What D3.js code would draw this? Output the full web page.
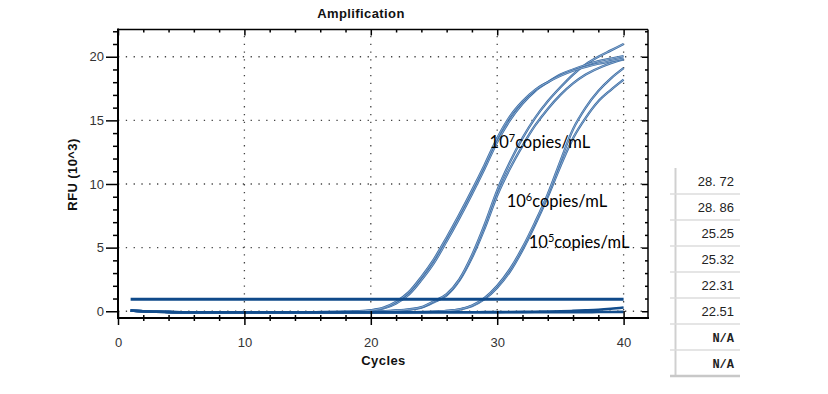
<!DOCTYPE html>
<html><head><meta charset="utf-8">
<script src="https://cdn.jsdelivr.net/npm/d3@7/dist/d3.min.js"></script>
<style>body{margin:0;background:#fff}svg{display:block}</style>
</head><body>
<script>
// ---- data ----
const cycles = [1,2,3,4,5,6,7,8,9,10,11,12,13,14,15,16,17,18,19,20,21,22,23,24,25,26,27,28,29,30,31,32,33,34,35,36,37,38,39,40];
const curve7a = [0.05,0.0,-0.04,-0.06,-0.08,-0.08,-0.08,-0.08,-0.08,-0.08,-0.08,-0.08,-0.08,-0.07,-0.07,-0.06,-0.05,-0.03,0.0,0.08,0.28,0.75,1.5,2.7,4.1,5.8,7.6,9.5,11.5,13.6,15.3,16.5,17.4,18.0,18.5,18.9,19.2,19.45,19.65,19.85];
const curve7b = [0.05,0.0,-0.04,-0.06,-0.08,-0.08,-0.08,-0.08,-0.08,-0.08,-0.08,-0.08,-0.08,-0.08,-0.07,-0.07,-0.06,-0.04,-0.02,0.05,0.22,0.62,1.3,2.45,3.8,5.5,7.3,9.2,11.2,13.3,15.0,16.3,17.3,18.0,18.6,19.0,19.35,19.65,19.85,20.05];
const curve6a = [0.05,0.0,-0.04,-0.06,-0.08,-0.08,-0.08,-0.08,-0.08,-0.08,-0.08,-0.08,-0.08,-0.08,-0.08,-0.08,-0.08,-0.07,-0.06,-0.05,0.0,0.06,0.15,0.32,0.8,1.35,2.5,4.4,6.8,9.5,11.7,13.6,15.2,16.5,17.6,18.6,19.4,20.0,20.5,21.0];
const curve6b = [0.05,0.0,-0.04,-0.06,-0.08,-0.08,-0.08,-0.08,-0.08,-0.08,-0.08,-0.08,-0.08,-0.08,-0.08,-0.08,-0.08,-0.08,-0.07,-0.06,-0.02,0.04,0.13,0.29,0.72,1.25,2.4,4.2,6.5,9.1,11.2,13.0,14.6,15.9,17.0,17.9,18.6,19.1,19.5,19.8];
const curve5a = [0.05,0.0,-0.04,-0.06,-0.08,-0.08,-0.08,-0.08,-0.08,-0.08,-0.08,-0.08,-0.08,-0.08,-0.08,-0.08,-0.08,-0.08,-0.08,-0.08,-0.08,-0.08,-0.07,-0.06,-0.03,0.03,0.15,0.45,1.05,2.0,3.3,5.0,7.0,9.2,11.8,14.3,16.0,17.3,18.3,19.1];
const curve5b = [0.05,0.0,-0.04,-0.06,-0.08,-0.08,-0.08,-0.08,-0.08,-0.08,-0.08,-0.08,-0.08,-0.08,-0.08,-0.08,-0.08,-0.08,-0.08,-0.08,-0.08,-0.08,-0.08,-0.07,-0.04,0.02,0.13,0.4,0.95,1.85,3.1,4.8,6.8,9.0,11.4,13.6,15.2,16.5,17.4,18.2];
const negA = [0.05,0.0,-0.04,-0.06,-0.08,-0.08,-0.08,-0.08,-0.08,-0.08,-0.08,-0.08,-0.08,-0.08,-0.08,-0.08,-0.08,-0.08,-0.08,-0.08,-0.08,-0.08,-0.08,-0.08,-0.08,-0.08,-0.08,-0.08,-0.08,-0.08,-0.08,-0.08,-0.08,-0.08,-0.08,-0.07,-0.07,-0.06,-0.06,-0.05];
const negB = [0.05,0.0,-0.04,-0.06,-0.08,-0.08,-0.08,-0.08,-0.08,-0.08,-0.08,-0.08,-0.08,-0.08,-0.08,-0.08,-0.08,-0.08,-0.08,-0.08,-0.08,-0.08,-0.08,-0.08,-0.08,-0.08,-0.08,-0.08,-0.07,-0.07,-0.06,-0.05,-0.04,-0.02,0.0,0.03,0.07,0.12,0.2,0.3];
const thresholdValue = 0.95;
const xTickLabels = [0,10,20,30,40];
const yTickLabels = [0,5,10,15,20];
const ctValues = ["28. 72","28. 86","25.25","25.32","22.31","22.51","N/A","N/A"];
const labels = [
  {base:"10", exp:"7", rest:"copies/mL", cyc:29.4, val:12.8},
  {base:"10", exp:"6", rest:"copies/mL", cyc:30.75, val:8.2},
  {base:"10", exp:"5", rest:"copies/mL", cyc:32.5, val:4.95}
];

// ---- chart ----
const W = 828, H = 394;
const svg = d3.select("body").append("svg").attr("width", W).attr("height", H);
const L = 118, R = 648, T = 29.5, B = 318;
const x = d3.scaleLinear().domain([0, 41.93]).range([L, R]);
const y = d3.scaleLinear().domain([-0.53, 22.14]).range([B, T]);

// grid
const grid = svg.append("g").attr("stroke", "#444").attr("stroke-width", 1.3).attr("stroke-dasharray", "1.3,6.5");
xTickLabels.filter(d => d > 0).forEach(d => {
  grid.append("line").attr("x1", x(d)).attr("x2", x(d)).attr("y1", B).attr("y2", T);
});
yTickLabels.forEach(d => {
  grid.append("line").attr("x1", L).attr("x2", R).attr("y1", y(d)).attr("y2", y(d));
});

// curves
const line = d3.line().x((d, i) => x(cycles[i])).y(d => y(d)).curve(d3.curveMonotoneX);
const amp = [curve5b, curve5a, curve6b, curve6a, curve7b, curve7a];
const cg = svg.append("g").attr("fill", "none");
amp.forEach(s => {
  cg.append("path").attr("d", line(s)).attr("stroke", "#3d6ea6").attr("stroke-width", 2.3);
  cg.append("path").attr("d", line(s)).attr("stroke", "#a8c0db").attr("stroke-width", 0.7);
});
[negA, negB].forEach(s => {
  cg.append("path").attr("d", line(s)).attr("stroke", "#134d8c").attr("stroke-width", 2.6);
});
// threshold
cg.append("line").attr("x1", x(cycles[0])).attr("x2", x(cycles[cycles.length - 1]))
  .attr("y1", y(thresholdValue)).attr("y2", y(thresholdValue))
  .attr("stroke", "#0f4a8a").attr("stroke-width", 3);

// frame
const ax = svg.append("g").attr("stroke", "#000");
ax.append("line").attr("x1", L).attr("x2", L).attr("y1", T - 1).attr("y2", B + 1).attr("stroke-width", 2);
ax.append("line").attr("x1", L - 1).attr("x2", R + 1).attr("y1", B).attr("y2", B).attr("stroke-width", 2);
ax.append("line").attr("x1", L).attr("x2", R).attr("y1", T).attr("y2", T).attr("stroke-width", 1.5);
ax.append("line").attr("x1", R).attr("x2", R).attr("y1", T).attr("y2", B).attr("stroke-width", 1.5);

// axes via d3
const xMinor = d3.range(0, 42, 2);
const yMinor = d3.range(0, 23, 1);
// bottom
const gb = svg.append("g").attr("transform", `translate(0,${B})`)
  .call(d3.axisBottom(x).tickValues(xMinor).tickSize(3).tickFormat(""));
gb.select(".domain").remove();
gb.selectAll(".tick line").attr("y1", -3).attr("stroke-width", 1.5)
  .filter(d => d % 10 === 0).attr("y1", -7).attr("y2", 7);
const gbl = svg.append("g").attr("transform", `translate(0,${B})`)
  .call(d3.axisBottom(x).tickValues(xTickLabels).tickSize(0).tickPadding(20).tickFormat(d3.format("d")));
gbl.select(".domain").remove();
gbl.selectAll("text").attr("font-family", "Liberation Sans, Arial, sans-serif").attr("font-size", 13).attr("fill", "#333");
// top
const gt = svg.append("g").attr("transform", `translate(0,${T})`)
  .call(d3.axisBottom(x).tickValues(xMinor).tickSize(3).tickFormat(""));
gt.select(".domain").remove();
gt.selectAll(".tick line").attr("stroke-width", 1.5).filter(d => d % 10 === 0).attr("y2", 6);
// left
const gl = svg.append("g").attr("transform", `translate(${L},0)`)
  .call(d3.axisLeft(y).tickValues(yMinor).tickSize(5).tickFormat(""));
gl.select(".domain").remove();
gl.selectAll(".tick line").attr("stroke-width", 1.5).filter(d => d % 5 === 0).attr("x2", -12);
const gll = svg.append("g").attr("transform", `translate(${L},0)`)
  .call(d3.axisLeft(y).tickValues(yTickLabels).tickSize(0).tickPadding(14).tickFormat(d3.format("d")));
gll.select(".domain").remove();
gll.selectAll("text").attr("font-family", "Liberation Sans, Arial, sans-serif").attr("font-size", 13).attr("fill", "#333");
// right
const gr = svg.append("g").attr("transform", `translate(${R},0)`)
  .call(d3.axisRight(y).tickValues(yMinor).tickSize(3).tickFormat(""));
gr.select(".domain").remove();
gr.selectAll(".tick line").attr("x2", -3).attr("stroke-width", 1.5).filter(d => d % 5 === 0).attr("x2", -6);

// titles
svg.append("text").attr("x", 361).attr("y", 18).attr("text-anchor", "middle")
  .attr("font-family", "Liberation Sans, Arial, sans-serif").attr("font-weight", "bold")
  .attr("font-size", 13).attr("letter-spacing", 0.4).attr("fill", "#111").text("Amplification");
svg.append("text").attr("x", 383.5).attr("y", 365).attr("text-anchor", "middle")
  .attr("font-family", "Liberation Sans, Arial, sans-serif").attr("font-weight", "bold")
  .attr("font-size", 13).attr("letter-spacing", 0.4).attr("fill", "#111").text("Cycles");
svg.append("text").attr("transform", "translate(77,174.5) rotate(-90)").attr("text-anchor", "middle")
  .attr("font-family", "Liberation Sans, Arial, sans-serif").attr("font-weight", "bold")
  .attr("font-size", 13).attr("letter-spacing", 0.4).attr("fill", "#111").text("RFU (10^3)");

// curve labels
labels.forEach(l => {
  const t = svg.append("text").attr("x", x(l.cyc)).attr("y", y(l.val))
    .attr("font-family", "Lato, sans-serif").attr("font-size", 16.5).attr("fill", "#000");
  t.append("tspan").text(l.base);
  t.append("tspan").attr("dy", -6).attr("font-size", 11).text(l.exp);
  t.append("tspan").attr("dy", 6).text(l.rest);
});

// Ct table
const tb = svg.append("g");
const rowTop = 168, rowH = 26;
tb.append("line").attr("x1", 675.5).attr("x2", 675.5).attr("y1", rowTop).attr("y2", rowTop + rowH * ctValues.length)
  .attr("stroke", "#d0d0d0").attr("stroke-width", 2);
ctValues.forEach((v, i) => {
  const yb = rowTop + rowH * (i + 1);
  tb.append("line").attr("x1", 670).attr("x2", 740).attr("y1", yb).attr("y2", yb)
    .attr("stroke", i === ctValues.length - 1 ? "#c8c8c8" : "#dcdcdc").attr("stroke-width", i === ctValues.length - 1 ? 2.5 : 1.5);
  const isNA = v === "N/A";
  tb.append("text").attr("x", 734).attr("y", yb - 8.5).attr("text-anchor", "end")
    .attr("font-family", isNA ? "Liberation Mono, monospace" : "Liberation Sans, Arial, sans-serif")
    .attr("font-weight", isNA ? "bold" : "normal")
    .attr("font-size", isNA ? 12 : 13).attr("fill", "#222").text(v);
});
</script>
</body></html>
